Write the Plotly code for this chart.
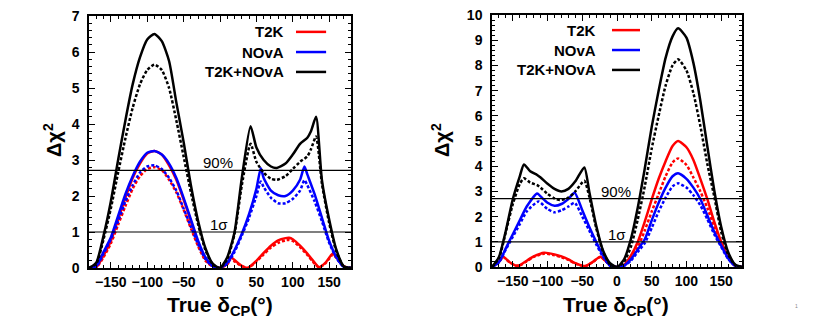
import plotly.graph_objects as go
from plotly.subplots import make_subplots

# ---- left panel: x = true dCP in degrees, y = delta chi^2
NEG = [-180, -170, -160, -150, -140, -130, -120, -110, -100, -90, -80, -70, -60, -50, -40, -30, -20, -10, 0]

L_t2k_x = NEG + [10, 15, 20, 30, 38, 50, 60, 70, 80, 90, 95, 100, 110, 120, 130, 136, 145, 155, 160, 170, 180]
L_t2k_y = [0, 0.02, 0.35, 0.75, 1.35, 1.95, 2.5, 2.9, 3.18, 3.25, 3.15, 2.85, 2.45, 1.9, 1.3, 0.7, 0.25, 0.05, 0,
           0.12, 0.3, 0.22, 0.06, 0, 0.2, 0.42, 0.62, 0.77, 0.83, 0.84, 0.8, 0.62, 0.4, 0.15, 0.02, 0.15, 0.4, 0.3, 0.05, 0]
L_t2k_dot_y = [0, 0.02, 0.3, 0.68, 1.2, 1.72, 2.2, 2.55, 2.75, 2.8, 2.72, 2.45, 2.1, 1.62, 1.1, 0.6, 0.2, 0.04, 0,
               0.1, 0.25, 0.18, 0.05, 0, 0.18, 0.38, 0.57, 0.7, 0.77, 0.78, 0.75, 0.58, 0.36, 0.12, 0.02, 0.13, 0.37, 0.28, 0.04, 0]

L_nova_x = NEG + [10, 20, 30, 40, 50, 56, 60, 70, 80, 90, 100, 110, 116, 120, 130, 140, 150, 160, 170, 180]
L_nova_y = [0, 0.05, 0.45, 0.85, 1.45, 2.05, 2.55, 2.95, 3.2, 3.25, 3.15, 2.9, 2.5, 1.95, 1.35, 0.75, 0.3, 0.05, 0,
            0.15, 0.5, 0.95, 1.5, 2.2, 2.77, 2.5, 2.15, 2.02, 2.0, 2.15, 2.45, 2.82, 2.6, 2.05, 1.4, 0.75, 0.3, 0.03, 0]
L_nova_dot_y = [0, 0.04, 0.4, 0.8, 1.3, 1.85, 2.3, 2.65, 2.82, 2.85, 2.75, 2.5, 2.15, 1.65, 1.15, 0.65, 0.25, 0.05, 0,
                0.12, 0.45, 0.9, 1.4, 2.0, 2.4, 2.25, 1.95, 1.8, 1.8, 1.92, 2.15, 2.44, 2.3, 1.85, 1.3, 0.7, 0.28, 0.03, 0]

L_comb_x = NEG + [10, 20, 30, 42, 50, 60, 70, 78, 90, 100, 110, 120, 125, 132, 140, 150, 160, 170, 180]
L_comb_y = [0, 0.15, 0.9, 1.85, 3.0, 4.1, 5.1, 5.85, 6.35, 6.5, 6.3, 5.75, 4.6, 3.5, 2.3, 1.3, 0.55, 0.12, 0,
            0.3, 1.0, 2.5, 3.94, 3.35, 3.0, 2.82, 2.78, 2.9, 3.15, 3.45, 3.62, 3.8, 4.2, 2.45, 1.35, 0.5, 0.05, 0]
L_comb_dot_y = [0, 0.12, 0.8, 1.65, 2.65, 3.6, 4.45, 5.1, 5.5, 5.65, 5.5, 5.0, 4.1, 3.1, 2.1, 1.2, 0.5, 0.1, 0,
                0.25, 0.95, 2.3, 3.45, 2.95, 2.65, 2.48, 2.45, 2.55, 2.75, 2.95, 3.1, 3.3, 3.65, 2.35, 1.25, 0.45, 0.04, 0]

# ---- right panel
POS = [10, 20, 30, 40, 50, 60, 70, 80, 88, 100, 110, 120, 130, 140, 150, 160, 170, 180]

R_t2k_x = [-180, -170, -164, -155, -145, -140, -130, -120, -105, -90, -80, -70, -60, -50, -45, -35, -24, -15, -5, 0] + POS
R_t2k_y = [0, 0.2, 0.41, 0.2, 0.05, 0.07, 0.25, 0.42, 0.57, 0.5, 0.42, 0.3, 0.15, 0.05, 0.04, 0.2, 0.41, 0.2, 0.02, 0,
           0.08, 0.45, 1.0, 1.8, 2.68, 3.5, 4.2, 4.8, 5.0, 4.75, 4.25, 3.5, 2.7, 1.8, 1.0, 0.4, 0.05, 0]
R_t2k_dot_y = [0, 0.2, 0.4, 0.19, 0.05, 0.06, 0.23, 0.4, 0.53, 0.47, 0.39, 0.28, 0.14, 0.05, 0.04, 0.19, 0.4, 0.2, 0.02, 0,
               0.06, 0.35, 0.78, 1.45, 2.2, 2.9, 3.6, 4.15, 4.31, 4.05, 3.55, 3.0, 2.35, 1.6, 0.95, 0.4, 0.05, 0]

R_nova_x = [-180, -170, -160, -150, -140, -130, -115, -110, -100, -90, -80, -70, -61, -50, -40, -30, -20, -10, 0] + POS
R_nova_y = [0, 0.2, 0.75, 1.3, 1.85, 2.4, 2.92, 2.8, 2.55, 2.43, 2.5, 2.7, 2.95, 2.25, 1.6, 1.0, 0.45, 0.05, 0,
            0.05, 0.3, 0.7, 1.1, 1.85, 2.55, 3.15, 3.6, 3.72, 3.5, 3.15, 2.7, 2.05, 1.4, 0.85, 0.35, 0.05, 0]
R_nova_dot_x = [-180, -170, -160, -150, -140, -130, -113, -100, -90, -80, -70, -61, -50, -40, -30, -20, -10, 0] + POS
R_nova_dot_y = [0, 0.18, 0.7, 1.2, 1.7, 2.2, 2.6, 2.3, 2.17, 2.25, 2.4, 2.55, 2.0, 1.45, 0.9, 0.4, 0.05, 0,
                0.04, 0.25, 0.6, 0.95, 1.55, 2.2, 2.75, 3.2, 3.32, 3.15, 2.85, 2.45, 1.9, 1.3, 0.8, 0.32, 0.05, 0]

R_comb_x = [-180, -170, -160, -150, -140, -134, -125, -115, -110, -100, -90, -80, -70, -60, -47, -40, -30, -20, -10, 0] + POS
R_comb_y = [0, 0.4, 1.45, 2.7, 3.6, 4.07, 3.8, 3.65, 3.55, 3.3, 3.1, 3.0, 3.1, 3.4, 3.95, 3.0, 1.65, 0.65, 0.15, 0,
            0.29, 1.11, 2.37, 3.91, 5.56, 7.0, 8.3, 9.15, 9.47, 9.1, 8.1, 6.6, 4.8, 3.05, 1.6, 0.6, 0.1, 0]
R_comb_dot_x = [-180, -170, -160, -150, -140, -134, -125, -115, -110, -100, -90, -82, -70, -60, -47, -40, -30, -20, -10, 0] + POS
R_comb_dot_y = [0, 0.35, 1.4, 2.5, 3.3, 3.52, 3.35, 3.25, 3.15, 2.9, 2.72, 2.66, 2.75, 3.0, 3.42, 2.8, 1.55, 0.6, 0.1, 0,
                0.2, 0.8, 1.9, 3.2, 4.7, 6.0, 7.2, 8.0, 8.24, 7.8, 6.9, 5.6, 4.1, 2.8, 1.4, 0.5, 0.08, 0]

X_TICKS = [-150, -100, -50, 0, 50, 100, 150]
THRESHOLDS = [1.0, 2.71]
THRESHOLD_LABELS = ["1σ", "90%"]
SERIES = ["T2K", "NOvA", "T2K+NOvA"]
COLORS = ["#ff0000", "#0000ff", "#000000"]

FONT = "Liberation Sans, Arial, sans-serif"

# the page body keeps its 8px margin, so the figure is 8px smaller than the window on each side
W, H, OFF = 822, 317, 8


def px_x(px):
    return (px - OFF) / W


def px_y(py):
    return (325 - py) / H


panels = [
    {
        "curves": [
            (L_t2k_x, L_t2k_y, L_t2k_x, L_t2k_dot_y),
            (L_nova_x, L_nova_y, L_nova_x, L_nova_dot_y),
            (L_comb_x, L_comb_y, L_comb_x, L_comb_dot_y),
        ],
        "label_x": [-1, -3],
    },
    {
        "curves": [
            (R_t2k_x, R_t2k_y, R_t2k_x, R_t2k_dot_y),
            (R_nova_x, R_nova_y, R_nova_dot_x, R_nova_dot_y),
            (R_comb_x, R_comb_y, R_comb_dot_x, R_comb_dot_y),
        ],
        "label_x": [0, -1.5],
    },
]

fig = make_subplots(rows=1, cols=2)

for col, panel in enumerate(panels, start=1):
    for (xs, ys, xd, yd), color in zip(panel["curves"], COLORS):
        fig.add_trace(go.Scatter(x=xd, y=yd, mode="lines", showlegend=False,
                                 line=dict(color=color, width=2.5, dash="3px,2px", shape="spline", smoothing=0.6)),
                      row=1, col=col)
        fig.add_trace(go.Scatter(x=xs, y=ys, mode="lines", showlegend=False,
                                 line=dict(color=color, width=2.5, shape="spline", smoothing=0.6)),
                      row=1, col=col)
    for yv, lab, lx in zip(THRESHOLDS, THRESHOLD_LABELS, panel["label_x"]):
        fig.add_hline(y=yv, line=dict(color="black", width=1.2), row=1, col=col)
        fig.add_annotation(x=lx, y=yv, text=lab, showarrow=False, yanchor="bottom", yshift=-3,
                           font=dict(family=FONT, size=15, color="black"), row=1, col=col)

# panel frames (window pixels)
fig.update_layout(
    xaxis=dict(domain=[px_x(89), px_x(351)]),
    yaxis=dict(domain=[px_y(268), px_y(16)]),
    xaxis2=dict(domain=[px_x(492), px_x(742)]),
    yaxis2=dict(domain=[px_y(267), px_y(15)]),
)

axis_common = dict(showline=True, linecolor="black", linewidth=1.5, mirror="ticks", ticks="inside",
                   tickcolor="black", ticklen=6, tickwidth=1, showgrid=False, zeroline=False, automargin=False,
                   ticklabeloverflow="allow",
                   tickfont=dict(family=FONT, size=14, color="black", weight="bold"))
fig.update_xaxes(range=[-180, 180], tickvals=X_TICKS, minor=dict(dtick=10, ticklen=3, ticks="inside", tickcolor="black"),
                 **axis_common)
fig.update_yaxes(range=[0, 7], dtick=1, row=1, col=1, ticklabelstandoff=5,
                 minor=dict(dtick=0.2, ticklen=3, ticks="inside", tickcolor="black"), **axis_common)
fig.update_yaxes(range=[0, 10], dtick=1, row=1, col=2, ticklabelstandoff=5,
                 minor=dict(dtick=0.2, ticklen=3, ticks="inside", tickcolor="black"), **axis_common)

# legends drawn inside each panel: label on the left, line sample on the right
legend_pos = [
    dict(xref="x domain", yref="y domain", text_x=0.752, line_x=(0.79, 0.905), ys=[0.937, 0.857, 0.778]),
    dict(xref="x2 domain", yref="y2 domain", text_x=0.424, line_x=(0.48, 0.592), ys=[0.94, 0.861, 0.782]),
]
for lp in legend_pos:
    for name, color, yy in zip(SERIES, COLORS, lp["ys"]):
        fig.add_annotation(xref=lp["xref"], yref=lp["yref"], x=lp["text_x"], y=yy, text=name,
                           showarrow=False, xanchor="right", yanchor="middle",
                           font=dict(family=FONT, size=15, color="black", weight="bold"))
        fig.add_shape(type="line", xref=lp["xref"], yref=lp["yref"], x0=lp["line_x"][0], x1=lp["line_x"][1],
                      y0=yy, y1=yy, line=dict(color=color, width=2.5))

# axis titles
for xc in [220, 616]:
    fig.add_annotation(xref="paper", yref="paper", x=px_x(xc), y=px_y(306), text="True δ<sub>CP</sub>(°)",
                       showarrow=False, xanchor="center", yanchor="middle",
                       font=dict(family=FONT, size=21, color="black", weight="bold"))
for xc in [52, 440]:
    fig.add_annotation(xref="paper", yref="paper", x=px_x(xc), y=px_y(140), text="Δχ<sup>2</sup>", textangle=-90,
                       showarrow=False, xanchor="center", yanchor="middle",
                       font=dict(family=FONT, size=20, color="black", weight="bold"))

fig.add_annotation(xref="paper", yref="paper", x=px_x(800), y=px_y(311), text="1", showarrow=False,
                   font=dict(family=FONT, size=5, color="#888888"))

fig.update_layout(width=W, height=H, margin=dict(l=0, r=0, t=0, b=0),
                  paper_bgcolor="white", plot_bgcolor="white", showlegend=False)

fig.write_html("out.html")
